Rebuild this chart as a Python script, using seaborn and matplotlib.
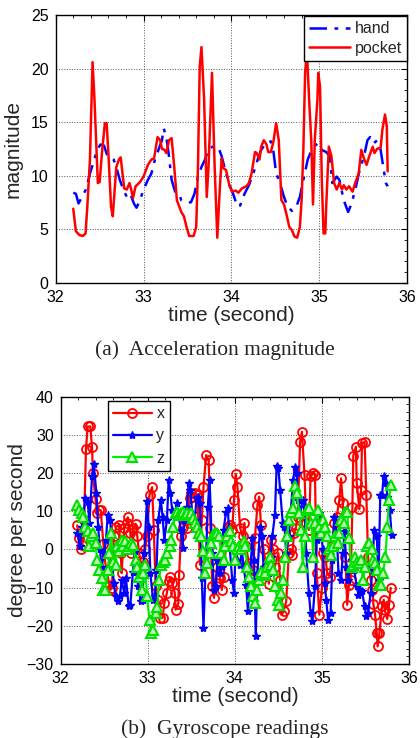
import numpy as np
import pandas as pd
import matplotlib
matplotlib.use("Agg")
import matplotlib.pyplot as plt
from matplotlib.ticker import MultipleLocator, AutoMinorLocator
import seaborn as sns

# ---------------- data: acceleration magnitude ----------------
pocket_t = [32.20, 32.23, 32.27, 32.31, 32.34, 32.36, 32.39, 32.42, 32.44, 32.48, 32.50, 32.53, 32.56, 32.58,
            32.60, 32.63, 32.65, 32.69, 32.72, 32.74, 32.78, 32.81, 32.84, 32.86, 32.88, 32.91, 32.96, 33.00,
            33.05, 33.09, 33.12, 33.16, 33.19, 33.21, 33.24, 33.26, 33.29, 33.32, 33.35, 33.38, 33.43, 33.46,
            33.49, 33.52, 33.57, 33.60, 33.62, 33.64, 33.66, 33.69, 33.72, 33.74, 33.78, 33.81, 33.84, 33.87,
            33.89, 33.91, 33.94, 33.98, 34.01, 34.05, 34.08, 34.12, 34.17, 34.20, 34.23, 34.27, 34.29, 34.32,
            34.34, 34.37, 34.40, 34.42, 34.45, 34.48, 34.51, 34.54, 34.57, 34.60, 34.63, 34.66, 34.69, 34.72,
            34.75, 34.78, 34.80, 34.82, 34.84, 34.86, 34.89, 34.91, 34.93, 34.95, 34.98, 34.99, 35.01, 35.03,
            35.05, 35.07, 35.08, 35.11, 35.14, 35.17, 35.20, 35.23, 35.26, 35.28, 35.31, 35.34, 35.38, 35.41,
            35.45, 35.48, 35.51, 35.54, 35.57, 35.61, 35.63, 35.66, 35.70, 35.72, 35.75, 35.77, 35.78]
pocket_v = [6.9, 4.8, 4.45, 4.36, 4.6, 7.1, 11.5, 20.6, 17.4, 9.3, 9.4, 12.4, 14.9, 14.9,
            12.1, 7.1, 6.2, 10.8, 11.5, 11.7, 8.8, 8.7, 9.3, 8.7, 7.9, 9.0, 9.4, 9.9,
            11.0, 11.5, 11.6, 13.6, 13.3, 12.5, 12.4, 12.1, 13.3, 13.5, 10.8, 7.7, 6.6, 6.2,
            5.2, 4.36, 4.36, 5.2, 10.8, 20.2, 22.0, 17.1, 8.0, 10.8, 19.6, 10.8, 4.2, 9.0,
            11.6, 10.7, 10.5, 9.0, 8.5, 8.6, 8.4, 8.8, 9.0, 9.3, 10.2, 12.2, 12.1, 11.5,
            12.7, 13.3, 12.9, 12.2, 12.2, 13.2, 14.9, 13.3, 7.7, 7.3, 6.3, 5.2, 4.9, 4.3,
            4.2, 5.2, 7.7, 12.4, 19.6, 21.6, 16.4, 13.3, 7.3, 13.3, 17.1, 19.6, 18.3, 9.6,
            4.6, 4.6, 7.1, 12.7, 11.8, 9.3, 8.7, 9.3, 8.7, 9.1, 8.7, 9.0, 8.5, 9.3,
            10.2, 12.4, 11.6, 11.0, 11.8, 12.7, 12.1, 12.5, 12.6, 14.3, 15.7, 14.6, 10.4]

hand_t = [32.20, 32.23, 32.26, 32.30, 32.35, 32.39, 32.44, 32.47, 32.51, 32.55, 32.59, 32.63, 32.66, 32.69,
          32.73, 32.77, 32.81, 32.85, 32.89, 32.92, 32.96, 33.00, 33.05, 33.09, 33.13, 33.17, 33.21, 33.23,
          33.26, 33.29, 33.32, 33.36, 33.40, 33.43, 33.49, 33.54, 33.58, 33.62, 33.66, 33.70, 33.74, 33.79,
          33.85, 33.89, 33.94, 33.98, 34.02, 34.07, 34.10, 34.15, 34.20, 34.25, 34.30, 34.34, 34.39, 34.45,
          34.48, 34.51, 34.55, 34.60, 34.64, 34.69, 34.74, 34.78, 34.82, 34.87, 34.92, 34.98, 35.03, 35.08,
          35.12, 35.15, 35.20, 35.23, 35.28, 35.33, 35.37, 35.42, 35.46, 35.51, 35.55, 35.58, 35.62, 35.66,
          35.70, 35.73, 35.76, 35.78]
hand_v = [8.4, 8.3, 7.4, 8.0, 8.8, 10.2, 11.5, 12.4, 12.9, 12.8, 11.8, 11.7, 11.5, 10.8,
          9.6, 8.7, 8.0, 8.3, 7.4, 7.0, 7.7, 8.7, 9.6, 10.2, 11.5, 12.4, 13.3, 14.4,
          13.6, 11.8, 9.6, 8.5, 8.4, 7.7, 7.5, 7.5, 8.3, 9.9, 10.8, 11.5, 12.5, 12.7,
          12.7, 11.8, 10.2, 9.1, 8.3, 7.1, 7.2, 8.3, 9.1, 10.2, 11.5, 12.4, 13.0, 13.2,
          12.2, 10.2, 9.4, 8.0, 7.1, 6.7, 7.1, 8.0, 9.6, 11.5, 12.5, 13.0, 12.4, 12.2,
          11.8, 9.3, 9.9, 9.6, 7.7, 6.6, 7.4, 9.0, 10.5, 11.8, 13.3, 13.6, 13.0, 13.3,
          12.4, 10.8, 9.3, 9.0]

# ---------------- data: gyroscope readings ----------------
gx_t = [32.19, 32.21, 32.23, 32.25, 32.27, 32.29, 32.31, 32.34, 32.36, 32.37, 32.40, 32.42, 32.44, 32.46,
        32.49, 32.51, 32.54, 32.57, 32.59, 32.61, 32.64, 32.67, 32.69, 32.70, 32.73, 32.76, 32.77, 32.80,
        32.81, 32.83, 32.86, 32.88, 32.90, 32.93, 32.95, 32.97, 32.99, 33.02, 33.05, 33.07, 33.09, 33.12,
        33.14, 33.17, 33.19, 33.22, 33.24, 33.26, 33.28, 33.31, 33.32, 33.35, 33.36, 33.38, 33.41, 33.43,
        33.45, 33.48, 33.50, 33.52, 33.54, 33.57, 33.60, 33.62, 33.64, 33.67, 33.70, 33.72, 33.74, 33.76,
        33.78, 33.80, 33.83, 33.85, 33.87, 33.90, 33.92, 33.94, 33.97, 33.99, 34.01, 34.03, 34.06, 34.09,
        34.11, 34.13, 34.16, 34.18, 34.21, 34.23, 34.26, 34.28, 34.30, 34.33, 34.36, 34.39, 34.41, 34.44,
        34.46, 34.50, 34.52, 34.54, 34.56, 34.59, 34.62, 34.64, 34.66, 34.68, 34.70, 34.72, 34.75, 34.77,
        34.80, 34.82, 34.85, 34.87, 34.90, 34.92, 34.94, 34.97, 35.00, 35.01, 35.04, 35.06, 35.09, 35.12,
        35.14, 35.17, 35.20, 35.22, 35.24, 35.27, 35.29, 35.31, 35.33, 35.35, 35.36, 35.39, 35.40, 35.43,
        35.45, 35.46, 35.49, 35.51, 35.53, 35.56, 35.58, 35.59, 35.61, 35.63, 35.64, 35.66, 35.69, 35.71,
        35.72, 35.75, 35.77, 35.79]
gx_v = [6.3, 2.9, 0.1, 1.2, 7.7, 26.2, 32.2, 32.2, 26.7, 19.9, 13.1, 9.5, 10.4, 10.2,
        1.5, -3.2, -7.1, -10.6, -10.1, 3.4, 6.0, 6.4, -1.0, -6.2, 5.6, 6.9, 8.4, 4.3,
        -1.0, 5.6, 6.7, 3.4, -1.0, -4.5, -3.2, 0.0, 3.4, 14.3, 16.3, 5.1, -9.7, -13.2,
        -18.0, -18.0, -14.1, -11.4, -8.4, -7.3, -8.8, -11.4, -15.8, -14.2, -6.6, 3.4, 6.0, 7.7,
        5.6, 13.4, 14.7, 13.8, 14.7, 14.3, -4.0, 7.7, 16.3, 24.7, 23.3, 5.6, -9.7, -12.7,
        -8.8, -4.5, -7.5, -10.6, -7.1, 1.6, 6.0, 6.4, 5.1, 13.0, 19.8, 16.3, 5.6, 3.4,
        6.9, 0.8, -3.6, -7.1, -5.3, 2.9, 11.7, 13.8, 6.4, 0.0, -4.5, -9.0, 2.5, 0.0,
        -4.5, -1.0, -8.0, -17.1, -16.2, -13.6, -1.0, 0.0, -1.4, 4.3, 5.6, 8.6, 28.2, 30.8,
        19.5, 6.9, 5.1, 19.1, 19.9, 19.5, -6.2, -17.1, -10.1, -1.0, -1.9, -6.2, -7.1, 0.8,
        6.9, 8.6, 13.0, 18.6, 12.1, -1.9, -14.5, -9.3, -8.0, 11.2, 24.5, 26.9, 17.3, 10.5,
        15.6, 27.8, 28.2, 14.3, -1.9, -8.0, -10.6, -14.2, -17.1, -22.0, -25.4, -22.0, -14.9, -13.2,
        -15.8, -18.2, -14.5, -10.1]

gy_t = [32.19, 32.22, 32.25, 32.28, 32.31, 32.33, 32.36, 32.38, 32.41, 32.43, 32.45, 32.47, 32.50, 32.52,
        32.54, 32.57, 32.59, 32.61, 32.63, 32.66, 32.68, 32.70, 32.73, 32.75, 32.78, 32.80, 32.83, 32.85,
        32.87, 32.89, 32.92, 32.94, 32.96, 32.99, 33.01, 33.03, 33.06, 33.08, 33.10, 33.12, 33.15, 33.17,
        33.19, 33.22, 33.24, 33.26, 33.28, 33.31, 33.33, 33.35, 33.38, 33.40, 33.42, 33.45, 33.47, 33.49,
        33.51, 33.54, 33.56, 33.58, 33.60, 33.62, 33.64, 33.67, 33.69, 33.71, 33.74, 33.76, 33.78, 33.80,
        33.83, 33.85, 33.87, 33.90, 33.92, 33.94, 33.97, 33.99, 34.01, 34.03, 34.06, 34.08, 34.10, 34.13,
        34.15, 34.17, 34.20, 34.22, 34.24, 34.26, 34.29, 34.31, 34.33, 34.36, 34.39, 34.41, 34.43, 34.46,
        34.48, 34.50, 34.52, 34.55, 34.57, 34.59, 34.62, 34.64, 34.67, 34.69, 34.71, 34.73, 34.75, 34.78,
        34.80, 34.82, 34.85, 34.87, 34.89, 34.92, 34.94, 34.97, 34.98, 35.01, 35.03, 35.05, 35.07, 35.10,
        35.12, 35.14, 35.17, 35.19, 35.22, 35.24, 35.26, 35.28, 35.30, 35.33, 35.35, 35.37, 35.40, 35.42,
        35.44, 35.46, 35.49, 35.51, 35.53, 35.56, 35.58, 35.60, 35.63, 35.65, 35.67, 35.69, 35.71, 35.74,
        35.75, 35.78, 35.80]
gy_v = [4.3, 0.8, 6.0, 13.4, 12.5, 6.9, 19.1, 22.4, 14.7, 6.0, 0.0, -4.5, -1.0, 2.5,
        9.0, 7.7, -2.7, -8.8, -12.3, -13.6, -12.3, -8.0, -11.4, -7.5, -14.9, -14.5, -5.8, -0.4,
        -5.8, -9.7, -13.6, -13.2, -1.0, 12.8, 6.0, -6.2, -13.2, -12.3, -5.3, 7.7, 13.0, 8.6,
        2.5, 7.7, 18.2, 14.7, 10.4, 8.6, 12.1, 9.5, 5.1, 0.4, 7.7, 11.2, 17.3, 15.6,
        9.5, 7.7, 13.4, 13.8, 12.1, -7.5, -20.6, -1.0, 11.2, 18.2, -1.0, -10.6, -9.7, -2.7,
        -6.2, -4.5, 5.1, 9.9, 10.8, 0.8, -8.0, -11.4, 0.0, -2.7, -4.0, 0.0, -4.5, -9.3,
        -16.2, -8.8, 2.9, -2.7, -22.8, -6.2, 6.0, 3.4, -4.5, -7.1, -6.2, -1.9, 3.4, 9.0,
        21.9, 21.3, 15.6, 6.9, 6.0, -1.0, 3.4, 9.5, 18.2, 21.7, 19.9, 13.0, 9.5, 13.0,
        11.2, -1.0, -11.4, -16.7, -18.8, -9.7, 2.5, 9.5, 7.7, 0.0, -8.8, -13.2, -18.4, -16.7,
        -2.7, 8.6, 4.3, -6.2, -8.0, -1.0, 4.7, -4.5, -8.0, -4.5, -2.7, -5.3, -9.7, -11.9,
        -10.6, -11.0, -14.9, -17.5, -16.7, -11.4, -4.5, 5.1, 3.4, -8.0, 14.3, 14.3, 19.1, 17.3,
        13.8, 10.4, 3.8]

gz_t = [32.19, 32.21, 32.24, 32.26, 32.28, 32.31, 32.33, 32.35, 32.37, 32.40, 32.42, 32.44, 32.47, 32.49,
        32.51, 32.54, 32.56, 32.58, 32.60, 32.63, 32.65, 32.67, 32.70, 32.72, 32.74, 32.76, 32.79, 32.81,
        32.83, 32.86, 32.88, 32.90, 32.93, 32.95, 32.97, 32.99, 33.02, 33.04, 33.06, 33.09, 33.11, 33.13,
        33.15, 33.18, 33.20, 33.22, 33.25, 33.27, 33.29, 33.32, 33.34, 33.36, 33.38, 33.41, 33.43, 33.45,
        33.48, 33.50, 33.52, 33.54, 33.57, 33.59, 33.61, 33.64, 33.66, 33.68, 33.71, 33.73, 33.75, 33.77,
        33.80, 33.82, 33.84, 33.87, 33.89, 33.91, 33.94, 33.96, 33.98, 34.00, 34.03, 34.05, 34.07, 34.10,
        34.12, 34.14, 34.16, 34.19, 34.21, 34.23, 34.26, 34.28, 34.30, 34.33, 34.35, 34.37, 34.40, 34.42,
        34.44, 34.46, 34.49, 34.51, 34.53, 34.55, 34.58, 34.60, 34.62, 34.65, 34.67, 34.69, 34.71, 34.74,
        34.76, 34.78, 34.81, 34.83, 34.85, 34.88, 34.90, 34.92, 34.95, 34.97, 34.99, 35.01, 35.04, 35.06,
        35.08, 35.11, 35.13, 35.15, 35.18, 35.20, 35.22, 35.25, 35.27, 35.29, 35.31, 35.34, 35.36, 35.38,
        35.40, 35.43, 35.45, 35.47, 35.50, 35.52, 35.54, 35.57, 35.59, 35.61, 35.63, 35.66, 35.68, 35.70,
        35.73, 35.75, 35.77, 35.79]
gz_v = [11.7, 10.4, 9.5, 8.6, 6.0, 4.7, 0.8, 3.4, 4.3, 1.6, -2.7, -5.3, -7.5, -10.6,
        -10.6, -5.3, -1.0, 4.3, -3.2, -4.0, 0.8, -0.5, 2.5, 0.8, 2.1, 0.0, 0.8, 1.6,
        1.2, -2.7, -4.5, -7.1, -10.6, -6.2, -4.0, -12.3, -18.4, -21.9, -21.0, -16.7, -15.0, -8.0,
        -4.0, -3.2, -2.7, -1.0, 0.8, 2.5, 6.0, 9.5, 9.9, 9.0, 9.5, 9.7, 9.0, 9.5,
        9.0, 9.5, 8.2, 6.9, 6.0, 4.3, 3.4, -0.4, -6.2, -3.6, -1.0, 1.6, 3.8, 4.3,
        4.3, 3.4, -1.0, -2.7, 0.8, 3.4, 4.7, 2.1, 0.8, -2.7, 0.0, 0.8, 0.0, 2.1,
        0.8, -4.5, -7.1, -9.7, -12.3, -14.1, -10.6, -8.0, -5.8, -6.6, -6.2, -4.5, -1.9, -4.0,
        -5.3, -9.7, -13.2, -14.5, -11.4, -8.0, -1.9, 3.4, 7.7, 9.9, 10.8, 16.5, 14.7, 9.5,
        5.1, -4.5, 3.4, 10.4, 10.8, 6.9, -1.9, 6.9, 10.4, 6.0, 4.3, 7.7, 6.0, 3.4,
        0.0, -1.4, 0.8, 3.4, 1.6, 4.3, 7.7, 6.9, 9.9, 9.9, 2.9, -4.5, -4.0, -1.9,
        -3.2, -3.6, -2.7, -8.0, -4.5, 0.8, 1.6, 0.0, -2.7, -3.6, -5.3, -9.3, -9.3, -6.2,
        -1.9, 6.0, 13.0, 16.9]

caption_a = "(a)  Acceleration magnitude"
caption_b = "(b)  Gyroscope readings"

# ---------------- styling ----------------
sns.set_theme(style="white")
plt.rcParams["font.family"] = ["Liberation Sans", "DejaVu Sans"]
plt.rcParams["axes.unicode_minus"] = True

fig = plt.figure(figsize=(4.2, 7.38), dpi=100)
ax1 = fig.add_axes([0.1326, 0.617, 0.8364, 0.3627])
ax2 = fig.add_axes([0.1445, 0.1003, 0.8293, 0.3622])


def style_axes(ax):
    for s in ax.spines.values():
        s.set_visible(True)
        s.set_color("black")
        s.set_linewidth(1.0)
    ax.set_facecolor("white")
    ax.tick_params(axis="both", which="both", direction="in", top=True, right=True,
                   labelsize=11.5, colors="black", pad=5)
    ax.tick_params(which="major", length=4, width=0.8)
    ax.tick_params(which="minor", length=2, width=0.6)
    ax.grid(True, which="major", linestyle=":", color="#555555", linewidth=0.7)
    ax.set_axisbelow(True)


# top panel
sns.lineplot(x=hand_t, y=hand_v, ax=ax1, color="blue", linewidth=1.8,
             label="hand", sort=False, dashes=False)
ax1.lines[-1].set_dashes([7, 3, 1.5, 3])
sns.lineplot(x=pocket_t, y=pocket_v, ax=ax1, color="red", linestyle="-", linewidth=1.8,
             label="pocket", sort=False)
ax1.set_xlim(32, 36)
ax1.set_ylim(0, 25)
ax1.xaxis.set_major_locator(MultipleLocator(1))
ax1.yaxis.set_major_locator(MultipleLocator(5))
ax1.xaxis.set_minor_locator(AutoMinorLocator(5))
ax1.yaxis.set_minor_locator(AutoMinorLocator(5))
style_axes(ax1)
ax1.set_xlabel("time (second)", fontsize=15, labelpad=1)
ax1.set_ylabel("magnitude", fontsize=15, labelpad=6)
leg1 = ax1.legend(loc="upper right", bbox_to_anchor=(1.0, 0.995), fontsize=11.5,
                  frameon=True, fancybox=False, edgecolor="black", framealpha=1,
                  borderpad=0.3, handlelength=2.6, handletextpad=0.3, labelspacing=0.3,
                  borderaxespad=0)
leg1.get_frame().set_linewidth(1.0)
leg1.get_lines()[0].set_dashes([7, 3, 1.5, 3])

# bottom panel
sns.lineplot(x=gx_t, y=gx_v, ax=ax2, color="red", marker="o", markersize=6.5,
             markerfacecolor="none", markeredgecolor="red", markeredgewidth=1.3,
             linewidth=1.6, label="x", sort=False)
sns.lineplot(x=gy_t, y=gy_v, ax=ax2, color="blue", marker="*", markersize=6,
             markeredgecolor="blue", markerfacecolor="blue", markeredgewidth=1.0,
             linewidth=1.6, label="y", sort=False)
sns.lineplot(x=gz_t, y=gz_v, ax=ax2, color="#00ee00", marker="^", markersize=7.5,
             markerfacecolor="#b8f5b0", markeredgecolor="#00e000", markeredgewidth=1.5,
             linewidth=1.6, label="z", sort=False)
ax2.set_xlim(32, 36)
ax2.set_ylim(-30, 40)
ax2.xaxis.set_major_locator(MultipleLocator(1))
ax2.yaxis.set_major_locator(MultipleLocator(10))
ax2.xaxis.set_minor_locator(AutoMinorLocator(5))
ax2.yaxis.set_minor_locator(AutoMinorLocator(5))
style_axes(ax2)
ax2.set_xlabel("time (second)", fontsize=15, labelpad=1)
ax2.set_ylabel("degree per second", fontsize=15, labelpad=0)
leg2 = ax2.legend(loc="upper left", bbox_to_anchor=(0.135, 0.985), fontsize=11.5,
                  frameon=True, fancybox=False, edgecolor="black", framealpha=1,
                  borderpad=0.35, handlelength=2.4, handletextpad=0.3, labelspacing=0.45,
                  borderaxespad=0)
leg2.get_frame().set_linewidth(1.0)

# captions
fig.text(215 / 420, 1 - 350 / 738, caption_a, ha="center", va="center", fontsize=15.5,
         family=["Liberation Serif", "DejaVu Serif"])
fig.text(225 / 420, 1 - 729 / 738, caption_b, ha="center", va="center", fontsize=15.5,
         family=["Liberation Serif", "DejaVu Serif"])

fig.savefig("out.png", dpi=100, facecolor="white")
